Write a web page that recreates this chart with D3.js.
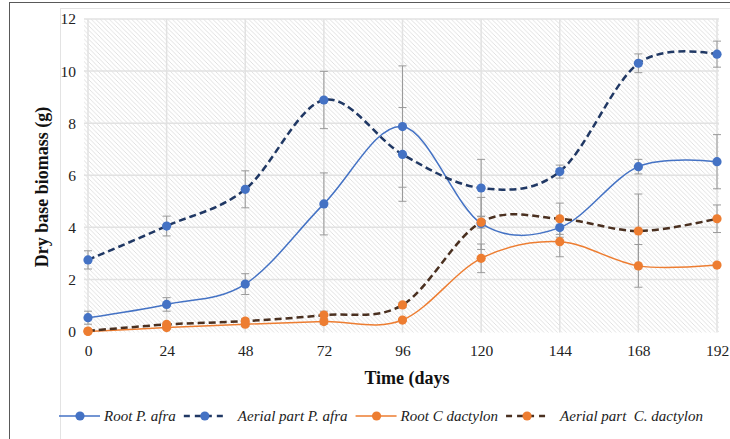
<!DOCTYPE html>
<html><head><meta charset="utf-8">
<script src="https://cdn.jsdelivr.net/npm/d3@7"></script>
<style>
body{margin:0;background:#fff;}
svg{display:block;}
text{font-family:"Liberation Serif","Times New Roman",serif;}
</style></head>
<body>
<svg id="chart" width="730" height="439"></svg>
<script>
const days = [0, 24, 48, 72, 96, 120, 144, 168, 192];
const yTicks = [0, 2, 4, 6, 8, 10, 12];
const rootPafra = [0.53, 1.04, 1.82, 4.90, 7.87, 4.15, 3.99, 6.33, 6.52];
const rootPafraErr = [0.25, 0.26, 0.40, 1.19, 2.33, 1.00, 0.37, 0.28, 1.04];
const aerialPafra = [2.75, 4.05, 5.46, 8.89, 6.80, 5.51, 6.14, 10.30, 10.65];
const aerialPafraErr = [0.35, 0.38, 0.71, 1.10, 1.80, 1.10, 0.25, 0.36, 0.50];
const rootCd = [0.00, 0.15, 0.28, 0.38, 0.44, 2.81, 3.45, 2.52, 2.55];
const rootCdErr = [0.02, 0.05, 0.08, 0.10, 0.05, 0.55, 0.58, 0.82, 0.05];
const aerialCd = [0.02, 0.27, 0.40, 0.63, 1.02, 4.20, 4.33, 3.86, 4.33];
const aerialCdErr = [0.03, 0.08, 0.10, 0.15, 0.10, 0.23, 0.60, 1.42, 0.53];
const seriesNames = ["Root P. afra", "Aerial part P. afra", "Root C dactylon", "Aerial part  C. dactylon"];

const series = [
  {name: seriesNames[0], values: rootPafra, err: rootPafraErr, line: "#4472C4", marker: "#4472C4", dash: null, width: 1.5},
  {name: seriesNames[1], values: aerialPafra, err: aerialPafraErr, line: "#203864", marker: "#4472C4", dash: "7,4", width: 2.5},
  {name: seriesNames[2], values: rootCd, err: rootCdErr, line: "#ED7D31", marker: "#ED7D31", dash: null, width: 1.5},
  {name: seriesNames[3], values: aerialCd, err: aerialCdErr, line: "#4a3020", marker: "#ED7D31", dash: "7,4", width: 2.5}
];

const svg = d3.select("#chart");
const x = d3.scaleLinear().domain([0, 192]).range([88, 717]);
const y = d3.scaleLinear().domain([0, 12]).range([331.5, 19]);

// frames
svg.append("rect").attr("x", 9.5).attr("y", 2.5).attr("width", 760).attr("height", 460)
  .attr("fill", "none").attr("stroke", "#595959").attr("stroke-width", 1);
svg.append("rect").attr("x", 60.5).attr("y", 8.5).attr("width", 700).attr("height", 460)
  .attr("fill", "none").attr("stroke", "#e3e3e3").attr("stroke-width", 1);

// hatch pattern
const defs = svg.append("defs");
const pat = defs.append("pattern").attr("id", "hatch").attr("patternUnits", "userSpaceOnUse")
  .attr("width", 4.5).attr("height", 4.5);
pat.append("rect").attr("width", 4.5).attr("height", 4.5).attr("fill", "#fff");
pat.append("path").attr("d", "M0,0 L4.5,4.5 M-1,3.5 L1,5.5 M3.5,-1 L5.5,1")
  .attr("stroke", "#dadada").attr("stroke-width", 0.8);

svg.append("rect").attr("x", x(0) - 4).attr("y", y(12)).attr("width", x(192) - x(0) + 6)
  .attr("height", y(0) - y(12) + 1).attr("fill", "url(#hatch)");

// gridlines
const grid = svg.append("g");
grid.selectAll("line.h").data(yTicks.filter(d => d > 0)).join("line")
  .attr("x1", x(0) - 4).attr("x2", x(192) + 2).attr("y1", d => y(d)).attr("y2", d => y(d))
  .attr("stroke", "#e2e2e2").attr("stroke-width", 1.5);
grid.selectAll("line.v").data(days).join("line")
  .attr("x1", d => x(d)).attr("x2", d => x(d)).attr("y1", y(12)).attr("y2", y(0) + 1)
  .attr("stroke", "#e2e2e2").attr("stroke-width", 1.5);

// axes
const xAxis = svg.append("g").attr("transform", `translate(0,${y(0)})`)
  .call(d3.axisBottom(x).tickValues(days).tickSize(0).tickPadding(13));
xAxis.attr("font-family", null);
xAxis.select(".domain").remove();
xAxis.selectAll("text").attr("font-size", 15.5).attr("fill", "#222")
  .style("font-family", "'Liberation Serif', serif");

const yAxis = svg.append("g").attr("transform", `translate(${x(0)},0)`)
  .call(d3.axisLeft(y).tickValues(yTicks).tickSize(0).tickPadding(12));
yAxis.attr("font-family", null);
yAxis.select(".domain").remove();
yAxis.selectAll("text").attr("font-size", 15.5).attr("fill", "#222")
  .style("font-family", "'Liberation Serif', serif");

// axis titles
svg.append("text").attr("x", 407).attr("y", 384).attr("text-anchor", "middle")
  .attr("font-size", 18).attr("font-weight", "bold").attr("fill", "#111").text("Time (days");
svg.append("text").attr("transform", "translate(48,187) rotate(-90)").attr("text-anchor", "middle")
  .attr("font-size", 18).attr("font-weight", "bold").attr("fill", "#111").text("Dry base biomass (g)");

// lines
const lineGen = d3.line().x((d, i) => x(days[i])).y(d => y(d)).curve(d3.curveCardinal.tension(0));
const plot = svg.append("g");
series.forEach(s => {
  plot.append("path").attr("d", lineGen(s.values)).attr("fill", "none")
    .attr("stroke", s.line).attr("stroke-width", s.width)
    .attr("stroke-dasharray", s.dash);
});
// error bars
series.forEach(s => {
  const g = plot.append("g").attr("stroke", "#9a9a9a").attr("stroke-width", 1);
  s.values.forEach((v, i) => {
    const e = s.err[i];
    if (e <= 0) return;
    const cx = x(days[i]);
    g.append("line").attr("x1", cx).attr("x2", cx).attr("y1", y(v + e)).attr("y2", y(v - e));
    g.append("line").attr("x1", cx - 4).attr("x2", cx + 4).attr("y1", y(v + e)).attr("y2", y(v + e));
    g.append("line").attr("x1", cx - 4).attr("x2", cx + 4).attr("y1", y(v - e)).attr("y2", y(v - e));
  });
});
// markers
series.forEach(s => {
  plot.append("g").selectAll("circle").data(s.values).join("circle")
    .attr("cx", (d, i) => x(days[i])).attr("cy", d => y(d)).attr("r", 4.6)
    .attr("fill", s.marker);
});

// legend
const legend = svg.append("g").attr("transform", "translate(0,416)");
let lx = 59;
series.forEach((s, i) => {
  const g = legend.append("g");
  g.append("line").attr("x1", lx).attr("x2", lx + 41).attr("y1", 0).attr("y2", 0)
    .attr("stroke", s.line).attr("stroke-width", s.width).attr("stroke-dasharray", s.dash ? "6,5" : null);
  g.append("circle").attr("cx", lx + 21).attr("cy", 0).attr("r", 4.6).attr("fill", s.marker);
  const tx = lx + 41 + (s.dash ? 13 : 4);
  const t = g.append("text").attr("x", tx).attr("y", 5).attr("font-size", 15)
    .attr("font-style", "italic").attr("fill", "#222").style("white-space", "pre").text(s.name);
  lx = tx + t.node().getComputedTextLength() + 8;
});
</script>
</body></html>
